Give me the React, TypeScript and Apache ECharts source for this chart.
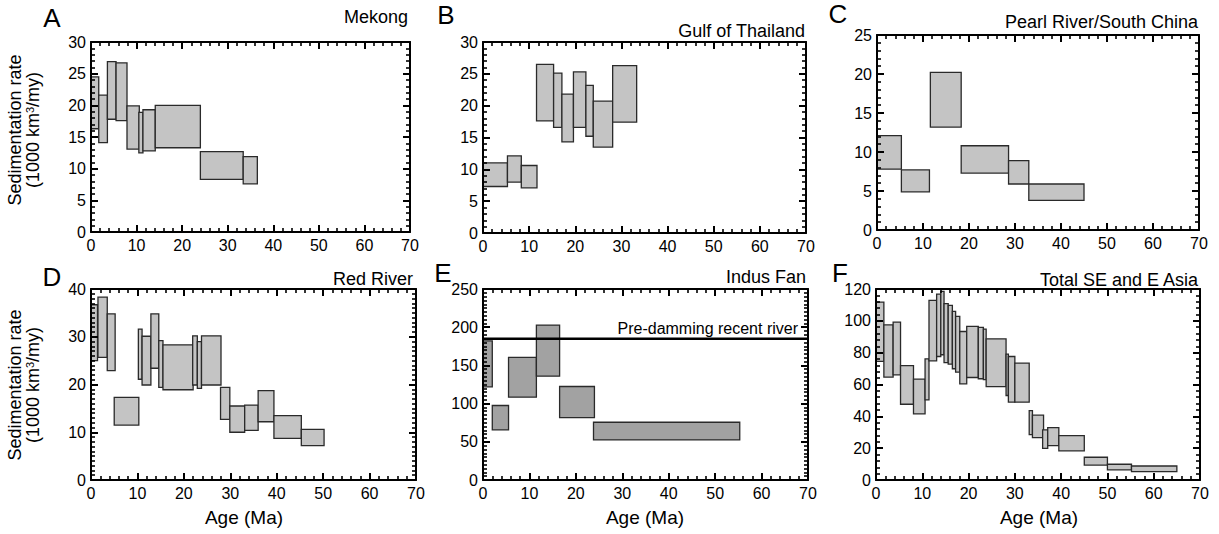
import React, { useEffect, useRef } from "react";
import * as echarts from "echarts";

// [ageStart, ageEnd, rateLow, rateHigh]
const mekong = [
  [0, 1.7, 16.3, 24.5], [1.7, 3.6, 14.1, 21.6], [3.6, 5.5, 17.8, 26.9], [5.5, 7.9, 17.6, 26.7],
  [7.9, 10.6, 13.1, 19.9], [10.5, 11.4, 12.5, 18.9], [11.4, 14.1, 12.8, 19.3], [14.1, 24.0, 13.3, 20.0],
  [24.0, 33.4, 8.3, 12.7], [33.4, 36.5, 7.6, 11.9],
];
const gulfOfThailand = [
  [0, 5.3, 7.3, 11.0], [5.3, 8.3, 8.0, 12.1], [8.3, 11.7, 7.1, 10.6], [11.6, 15.3, 17.6, 26.5],
  [15.3, 17.1, 16.6, 25.1], [17.1, 19.6, 14.3, 21.8], [19.6, 22.3, 16.6, 25.3], [22.3, 23.9, 15.2, 23.2],
  [23.9, 28.1, 13.5, 20.7], [28.1, 33.3, 17.4, 26.3],
];
const pearlRiver = [
  [0, 5.3, 7.8, 12.1], [5.3, 11.4, 4.9, 7.7], [11.6, 18.3, 13.2, 20.2],
  [18.3, 28.6, 7.3, 10.8], [28.6, 33.0, 5.9, 8.9], [33.0, 45.0, 3.8, 5.9],
];
const redRiver = [
  [0, 1.4, 25.0, 36.7], [1.5, 3.5, 25.7, 38.3], [3.5, 5.2, 22.9, 34.8], [5.0, 10.3, 11.5, 17.3],
  [10.2, 11.0, 21.1, 31.6], [11.0, 12.9, 19.9, 30.1], [12.9, 14.6, 23.4, 34.8], [14.6, 15.5, 19.4, 29.2],
  [15.5, 22.0, 18.9, 28.3], [21.9, 22.9, 19.9, 30.2], [22.9, 23.8, 19.2, 29.0], [23.8, 28.0, 19.9, 30.2],
  [27.9, 29.9, 12.7, 19.4], [29.9, 33.1, 10.0, 15.5], [33.1, 36.0, 10.4, 15.7], [36.0, 39.4, 12.2, 18.7],
  [39.4, 45.3, 8.7, 13.5], [45.3, 50.2, 7.2, 10.6],
];
const indusFan = [
  [0, 2.0, 122, 182], [2.0, 5.5, 65.6, 97.5], [5.5, 11.5, 108.4, 160.4],
  [11.5, 16.5, 135.9, 202.8], [16.5, 24.0, 81.7, 122.4], [23.8, 55.3, 52.4, 75.6],
];
const preDammingRate = 185;
const totalAsia = [
  [0, 1.7, 74.5, 111.8], [1.7, 3.7, 64.6, 97.5], [3.7, 5.3, 66.1, 99.2], [5.3, 8.1, 47.6, 71.9],
  [8.1, 10.6, 41.5, 63.4], [10.6, 11.45, 50.3, 76.1], [11.45, 13.1, 74.9, 112.8], [13.1, 14.0, 77.6, 116.8],
  [14.0, 14.7, 78.7, 118.5], [14.7, 15.6, 73.8, 110.8], [15.6, 16.5, 72.8, 109.7], [16.5, 17.2, 69.9, 105.9],
  [17.2, 18.1, 67.8, 102.8], [18.1, 19.6, 60.4, 93.3], [19.6, 22.1, 64.4, 96.5], [22.1, 23.2, 63.6, 95.9],
  [23.2, 23.8, 63.0, 94.8], [23.8, 28.1, 58.7, 88.7], [28.1, 28.6, 53.1, 79.1], [28.6, 30.0, 48.9, 77.6],
  [30.0, 33.1, 48.9, 73.4], [33.1, 33.8, 28.5, 43.6], [33.8, 36.2, 26.6, 40.7], [36.0, 37.1, 19.9, 31.5],
  [37.1, 39.5, 21.6, 32.9], [39.5, 45.0, 18.3, 27.9], [45.0, 50.0, 9.4, 14.3], [50.0, 55.2, 6.3, 9.9],
  [55.2, 65.0, 5.2, 8.8],
];

const xMax = 70;
const xInterval = 10;
const xMinorSplit = 5;

const FONT = "'Liberation Sans', Arial, Helvetica, sans-serif";

const panels = [
  { letter: "A", title: "Mekong", data: mekong, yMax: 30, yInt: 5, yMinor: 5, fill: "#c4c4c4",
    grid: { left: 91, top: 42, width: 319, height: 190 }, letterPos: [52, 18], titlePos: [408, 17] },
  { letter: "B", title: "Gulf of Thailand", data: gulfOfThailand, yMax: 30, yInt: 5, yMinor: 5, fill: "#c4c4c4",
    grid: { left: 483, top: 42, width: 323, height: 191 }, letterPos: [446, 15], titlePos: [805, 31] },
  { letter: "C", title: "Pearl River/South China", data: pearlRiver, yMax: 25, yInt: 5, yMinor: 5, fill: "#c4c4c4",
    grid: { left: 877, top: 35, width: 322, height: 195 }, letterPos: [838, 14], titlePos: [1198, 22] },
  { letter: "D", title: "Red River", data: redRiver, yMax: 40, yInt: 10, yMinor: 10, fill: "#c4c4c4",
    grid: { left: 91, top: 289, width: 325, height: 191 }, letterPos: [52, 277], titlePos: [413, 279] },
  { letter: "E", title: "Indus Fan", data: indusFan, yMax: 250, yInt: 50, yMinor: 10, fill: "#a2a2a2",
    grid: { left: 483, top: 289, width: 325, height: 191 }, letterPos: [443, 273], titlePos: [806, 277] },
  { letter: "F", title: "Total SE and E Asia", data: totalAsia, yMax: 120, yInt: 20, yMinor: 5, fill: "#c4c4c4",
    grid: { left: 876, top: 289, width: 324, height: 191 }, letterPos: [840, 273], titlePos: [1198, 280] },
];

const axisCommon = (showLabel: boolean, minor: number) => ({
  type: "value",
  axisLine: { show: true, onZero: false, lineStyle: { color: "#000", width: 2 } },
  axisTick: { show: true, inside: true, length: 7, lineStyle: { color: "#000", width: 2 } },
  minorTick: { show: true, splitNumber: minor, length: 4, lineStyle: { color: "#000", width: 1.6 } },
  splitLine: { show: false },
  axisLabel: { show: showLabel, color: "#000", fontSize: 16, fontFamily: FONT, margin: 5 },
  z: 10,
});

export default function App() {
  const ref = useRef<HTMLDivElement>(null);
  useEffect(() => {
    if (!ref.current) return;
    const chart = echarts.init(ref.current, undefined, { renderer: "svg" });
    const grids: any[] = [];
    const xAxes: any[] = [];
    const yAxes: any[] = [];
    const series: any[] = [];
    const graphics: any[] = [];

    panels.forEach((p, i) => {
      grids.push({ ...p.grid, containLabel: false });
      xAxes.push({ ...axisCommon(true, xMinorSplit), gridIndex: i, min: 0, max: xMax, interval: xInterval, position: "bottom" });
      xAxes.push({ ...axisCommon(false, xMinorSplit), gridIndex: i, min: 0, max: xMax, interval: xInterval, position: "top" });
      yAxes.push({ ...axisCommon(true, p.yMinor), gridIndex: i, min: 0, max: p.yMax, interval: p.yInt, position: "left" });
      yAxes.push({ ...axisCommon(false, p.yMinor), gridIndex: i, min: 0, max: p.yMax, interval: p.yInt, position: "right" });
      const fill = p.fill;
      series.push({
        type: "custom",
        xAxisIndex: 2 * i,
        yAxisIndex: 2 * i,
        data: p.data,
        encode: { x: [0, 1], y: [2, 3] },
        clip: false,
        z: 2,
        renderItem: (_params: any, api: any) => {
          const a = api.coord([api.value(0), api.value(3)]);
          const b = api.coord([api.value(1), api.value(2)]);
          return {
            type: "rect",
            shape: { x: a[0], y: a[1], width: b[0] - a[0], height: b[1] - a[1] },
            style: { fill, stroke: "#2a2a2a", lineWidth: 1.3 },
          };
        },
      });
      graphics.push({
        type: "text", x: p.letterPos[0], y: p.letterPos[1],
        style: { text: p.letter, fontSize: 26, fontFamily: FONT, fill: "#000", textAlign: "center", textVerticalAlign: "middle" },
      });
      graphics.push({
        type: "text", x: p.titlePos[0], y: p.titlePos[1],
        style: { text: p.title, fontSize: 18, fontFamily: FONT, fill: "#000", textAlign: "right", textVerticalAlign: "middle" },
      });
    });

    series.push({
      type: "line",
      xAxisIndex: 8,
      yAxisIndex: 8,
      data: [[0, preDammingRate], [xMax, preDammingRate]],
      symbol: "none",
      lineStyle: { color: "#000", width: 2.5 },
      z: 5,
    });
    graphics.push({
      type: "text", x: 798, y: 328,
      style: { text: "Pre-damming recent river", fontSize: 16, fontFamily: FONT, fill: "#000", textAlign: "right", textVerticalAlign: "middle" },
    });

    [130, 385].forEach((cy) => {
      graphics.push({
        type: "text", x: 24, y: cy, rotation: Math.PI / 2,
        style: {
          text: "Sedimentation rate\n(1000 km{sup|3}/my)",
          fontSize: 18, fontFamily: FONT, fill: "#000", textAlign: "center", textVerticalAlign: "middle", lineHeight: 18,
          rich: { sup: { fontSize: 11, fontFamily: FONT, fill: "#000", verticalAlign: "top", lineHeight: 11 } },
        },
      });
    });
    [244, 645, 1039].forEach((cx) => {
      graphics.push({
        type: "text", x: cx, y: 517,
        style: { text: "Age (Ma)", fontSize: 19, fontFamily: FONT, fill: "#000", textAlign: "center", textVerticalAlign: "middle" },
      });
    });

    chart.setOption({
      animation: false,
      backgroundColor: "#fff",
      grid: grids,
      xAxis: xAxes,
      yAxis: yAxes,
      series,
      graphic: graphics,
    });
    return () => chart.dispose();
  }, []);
  return (
    <div
      ref={ref}
      style={{ position: "fixed", left: 0, top: 0, width: 1219, height: 534, background: "#fff" }}
    />
  );
}
